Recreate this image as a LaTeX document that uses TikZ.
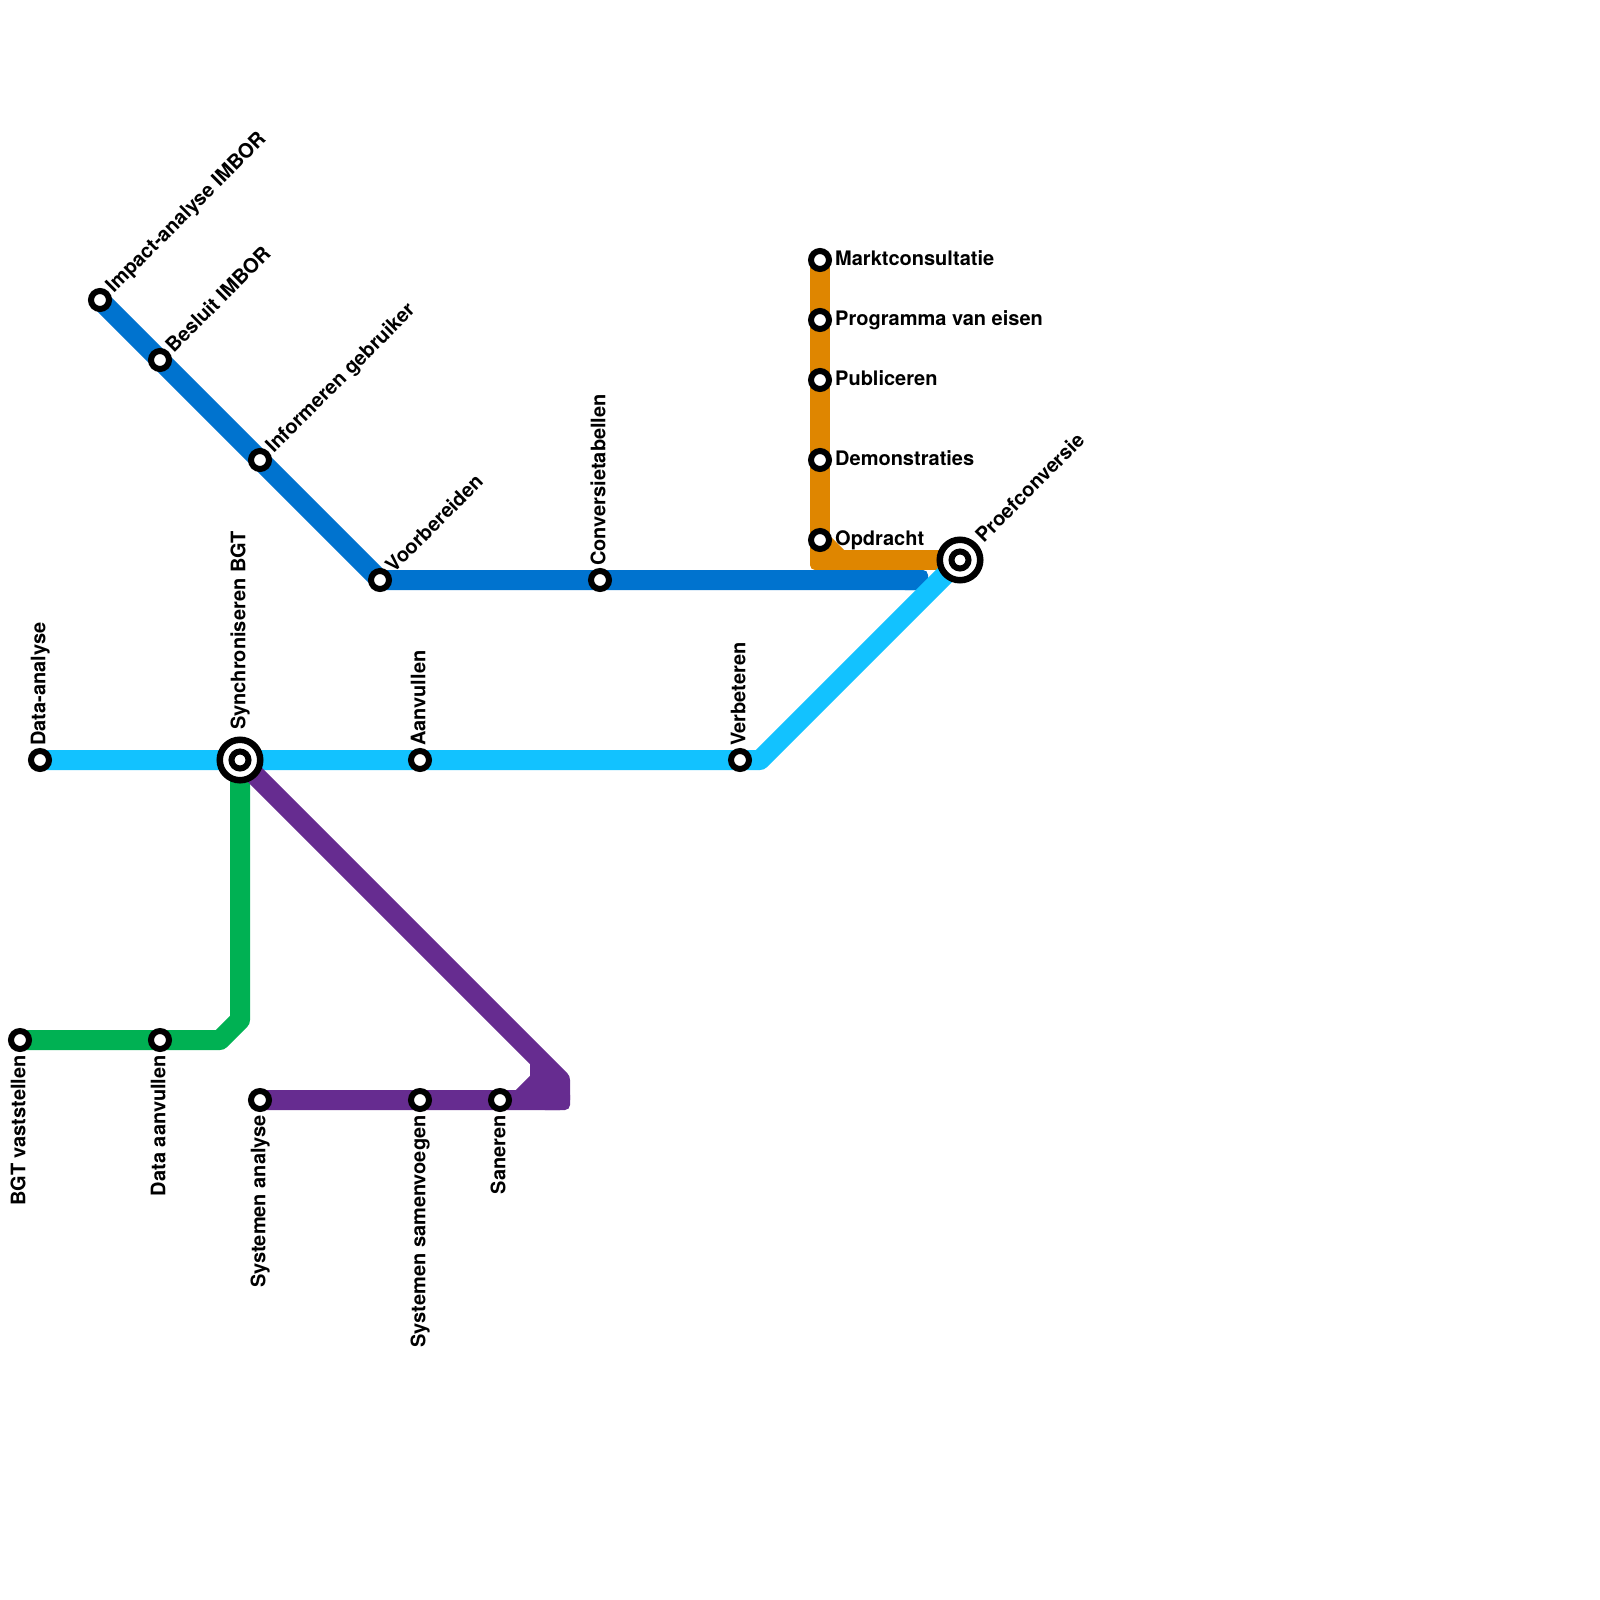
\documentclass[tikz,border=0pt]{standalone}
\usepackage{fontspec}
\setmainfont{TeX Gyre Heros}
\definecolor{lcyan}{HTML}{12C2FF}
\definecolor{lblue}{HTML}{0073CF}
\definecolor{lorange}{HTML}{DF8600}
\definecolor{lgreen}{HTML}{00B153}
\definecolor{lpurple}{HTML}{662C90}
\tikzset{
  x=1pt,y=-1pt,
  metro/.style={line width=20pt,line join=round,line cap=round},
  stop/.style={circle,draw=black,fill=white,line width=6pt,minimum size=18pt,inner sep=0pt,outer sep=0pt},
  hub/.style={circle,draw=black,fill=white,line width=6.5pt,minimum size=40.5pt,inner sep=0pt,outer sep=0pt},
  hubcore/.style={circle,draw=black,fill=white,line width=6pt,minimum size=17pt,inner sep=0pt,outer sep=0pt},
  lab/.style={font=\bfseries\fontsize{20}{20}\selectfont,inner sep=0pt,text height=14.5pt,text depth=4pt,text=black},
  up/.style={lab,rotate=90,anchor=west},
  down/.style={lab,rotate=90,anchor=east},
  diag/.style={lab,rotate=45,anchor=west},
  side/.style={lab,anchor=west},
}
\begin{document}
\begin{tikzpicture}
\useasboundingbox (0,0) rectangle (1600,1600);
% coordinates of stations
\coordinate (impact) at (100,300);
\coordinate (besluit) at (160,360);
\coordinate (inform) at (260,460);
\coordinate (voorb) at (380,580);
\coordinate (conv) at (600,580);
\coordinate (blueend) at (915,580);
\coordinate (markt) at (820,260);
\coordinate (pve) at (820,320);
\coordinate (publ) at (820,380);
\coordinate (demo) at (820,460);
\coordinate (opdr) at (820,540);
\coordinate (ocorner) at (820,560);
\coordinate (ostub) at (840,560);
\coordinate (proef) at (960,560);
\coordinate (data) at (40,760);
\coordinate (sync) at (240,760);
\coordinate (aanv) at (420,760);
\coordinate (verb) at (740,760);
\coordinate (ccorner) at (760,760);
\coordinate (bgt) at (20,1040);
\coordinate (daan) at (160,1040);
\coordinate (gc1) at (220,1040);
\coordinate (gc2) at (240,1020);
\coordinate (sysa) at (260,1100);
\coordinate (syss) at (420,1100);
\coordinate (san) at (500,1100);
\coordinate (pc1) at (560,1080);
\coordinate (pc2) at (560,1100);
\coordinate (pc3) at (540,1060);
\coordinate (pc4) at (540,1080);
\coordinate (pc5) at (520,1100);
% lines
\draw[metro,lorange] (markt) -- (ocorner) -- (proef);
\draw[metro,lorange,line cap=butt] (opdr) -- (ostub);
\fill[lorange,rounded corners=5pt] (810,550) rectangle (835,570);
\draw[metro,lblue,line cap=butt] (impact) -- (voorb) -- (blueend);
\fill[lblue,rounded corners=5pt] (900,570) rectangle (928,590);
\draw[metro,lcyan] (data) -- (ccorner) -- (proef);
\draw[metro,lgreen] (bgt) -- (gc1) -- (gc2) -- (sync);
\draw[metro,lpurple] (sync) -- (pc1) -- (pc2) -- (sysa);
\fill[lpurple,rounded corners=5pt] (540,1090) rectangle (570,1110);
\draw[metro,lpurple,line cap=butt] (pc3) -- (pc4) -- (pc5);
\fill[lpurple] (pc3) -- (pc1) -- (pc2) -- (pc5) -- (pc4) -- cycle;
% stations
\foreach \c in {impact,besluit,inform,voorb,conv,markt,pve,publ,demo,opdr,data,aanv,verb,bgt,daan,sysa,syss,san}
  \node[stop] (s\c) at (\c) {};
\foreach \c in {sync,proef}{
  \node[hub] (h\c) at (\c) {};
  \node[hubcore] (k\c) at (\c) {};
}
% labels
\node[diag] (limpact) at (110,290) {Impact-analyse IMBOR};
\node[diag] (lbesluit) at (170,350) {Besluit IMBOR};
\node[diag] (linform) at (270,450) {Informeren gebruiker};
\node[diag] (lvoorb) at (390,570) {Voorbereiden};
\node[up] (lconv) at (600,566) {Conversietabellen};
\node[side] (lmarkt) at (835,260) {Marktconsultatie};
\node[side] (lpve) at (835,320) {Programma van eisen};
\node[side] (lpubl) at (835,380) {Publiceren};
\node[side] (ldemo) at (835,460) {Demonstraties};
\node[side] (lopdr) at (835,540) {Opdracht};
\node[diag] (lproef) at (980,540) {Proefconversie};
\node[up] (ldata) at (40,746) {Data-analyse};
\node[up] (lsync) at (240,730) {Synchroniseren BGT};
\node[up] (laanv) at (420,746) {Aanvullen};
\node[up] (lverb) at (740,746) {Verbeteren};
\node[down] (lbgt) at (20,1055) {BGT vaststellen};
\node[down] (ldaan) at (160,1055) {Data aanvullen};
\node[down] (lsysa) at (260,1115) {Systemen analyse};
\node[down] (lsyss) at (420,1115) {Systemen samenvoegen};
\node[down] (lsan) at (500,1115) {Saneren};
\end{tikzpicture}
\end{document}
